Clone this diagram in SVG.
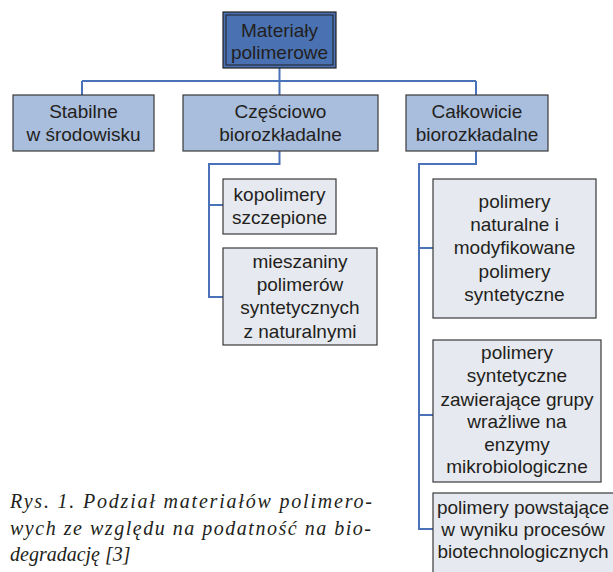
<svg xmlns="http://www.w3.org/2000/svg" width="613" height="572" viewBox="0 0 613 572">
<style>
.t{font-family:"Liberation Sans",Arial,sans-serif;font-size:19px;fill:#231f20;text-anchor:middle}
.top{fill:#4a72b2;stroke:#231f20;stroke-width:1.2}
.l2{fill:#a9bddd;stroke:#3a3a3a;stroke-width:1.2}
.l3{fill:#e6e9ef;stroke:#3a3a3a;stroke-width:1.2}
.c{fill:none;stroke:#4a72b8;stroke-width:2}
.cap{font-family:"Liberation Serif","Times New Roman",serif;font-style:italic;font-size:20px;fill:#231f20}
</style>
<rect width="613" height="572" fill="#ffffff"/>
<g id="connectors">
<path class="c" d="M279.5 68V81M82 81H476M82 81V95M279.5 81V95M476 81V95"/>
<path class="c" d="M279.5 150V164H209V297H223M209 205H223"/>
<path class="c" d="M476 150V164H419V529H433M419 248H433M419 415H433"/>
</g>
<g id="n-materialy">
<rect class="top" x="223" y="12" width="113" height="56"/>
<rect x="226" y="15" width="107" height="50" fill="none" stroke="#231f20" stroke-width="1"/>
<text class="t" x="279.5" y="37">Materiały</text>
<text class="t" x="279.5" y="59">polimerowe</text>
</g>
<g id="n-stabilne">
<rect class="l2" x="13" y="95" width="141" height="56"/>
<text class="t" x="83.5" y="118">Stabilne</text>
<text class="t" x="83.5" y="141">w środowisku</text>
</g>
<g id="n-czesciowo">
<rect class="l2" x="183" y="95" width="195" height="56"/>
<text class="t" x="280.5" y="118">Częściowo</text>
<text class="t" x="280.5" y="141">biorozkładalne</text>
</g>
<g id="n-calkowicie">
<rect class="l2" x="406" y="95" width="142" height="56"/>
<text class="t" x="477" y="118">Całkowicie</text>
<text class="t" x="477" y="141">biorozkładalne</text>
</g>
<g id="n-kopolimery">
<rect class="l3" x="223" y="179" width="113" height="55"/>
<text class="t" x="279.5" y="201">kopolimery</text>
<text class="t" x="279.5" y="224">szczepione</text>
</g>
<g id="n-mieszaniny">
<rect class="l3" x="223" y="248" width="154" height="97"/>
<text class="t" x="300" y="268">mieszaniny</text>
<text class="t" x="300" y="291">polimerów</text>
<text class="t" x="300" y="314">syntetycznych</text>
<text class="t" x="300" y="338">z naturalnymi</text>
</g>
<g id="n-naturalne">
<rect class="l3" x="433" y="179" width="163" height="139"/>
<text class="t" x="514.5" y="208">polimery</text>
<text class="t" x="514.5" y="231">naturalne i</text>
<text class="t" x="514.5" y="254">modyfikowane</text>
<text class="t" x="514.5" y="278">polimery</text>
<text class="t" x="514.5" y="301">syntetyczne</text>
</g>
<g id="n-syntetyczne">
<rect class="l3" x="433" y="340" width="168" height="142"/>
<text class="t" x="517" y="359">polimery</text>
<text class="t" x="517" y="382">syntetyczne</text>
<text class="t" x="517" y="406">zawierające grupy</text>
<text class="t" x="517" y="428">wrażliwe na</text>
<text class="t" x="517" y="451">enzymy</text>
<text class="t" x="517" y="473">mikrobiologiczne</text>
</g>
<g id="n-biotech">
<rect class="l3" x="433" y="493" width="190" height="90"/>
<text class="t" x="523" y="514">polimery powstające</text>
<text class="t" x="523" y="536">w wyniku procesów</text>
<text class="t" x="523" y="558">biotechnologicznych</text>
</g>
<g id="caption">
<text class="cap" x="10" y="508" textLength="362" lengthAdjust="spacing">Rys. 1. Podział materiałów polimero-</text>
<text class="cap" x="10" y="535" textLength="361" lengthAdjust="spacing">wych ze względu na podatność na bio-</text>
<text class="cap" x="10" y="561">degradację [3]</text>
</g>
</svg>
